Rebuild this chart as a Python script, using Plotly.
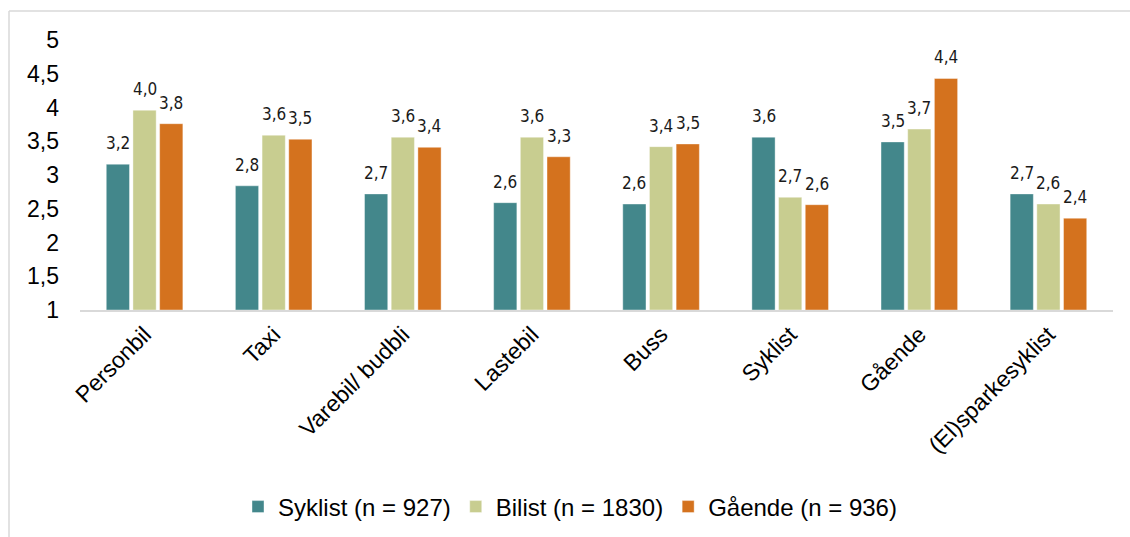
import plotly.graph_objects as go

categories = ["Personbil", "Taxi", "Varebil/ budbli", "Lastebil", "Buss", "Syklist", "Gående", "(El)sparkesyklist"]
series_names = ["Syklist (n = 927)", "Bilist (n = 1830)", "Gående (n = 936)"]
syklist = [3.16, 2.84, 2.72, 2.59, 2.57, 3.56, 3.49, 2.72]
bilist = [3.96, 3.59, 3.56, 3.56, 3.42, 2.67, 3.68, 2.57]
gaende = [3.76, 3.53, 3.41, 3.27, 3.46, 2.56, 4.43, 2.36]
colors = ["#43878B", "#C8CD90", "#D4721E"]
y_ticks = [1, 1.5, 2, 2.5, 3, 3.5, 4, 4.5, 5]

W, H = 1130, 537
ml, mr, mt, mb = 80, 17, 40, 227
bargap = 0.38

fig = go.Figure()
all_series = [syklist, bilist, gaende]
for name, vals, col in zip(series_names, all_series, colors):
    fig.add_trace(go.Bar(
        x=categories, y=[v - 1 for v in vals], base=1, name=name,
        marker=dict(color=col, line=dict(width=1, color="rgba(255,255,255,0.4)")),
        hoverinfo="skip",
    ))

pw = W - ml - mr
ph = H - mt - mb
group_px = pw / len(categories)
slot_px = (1 - bargap) * group_px / 3

annotations = []
for i, vals in enumerate(all_series):
    for cat, v in zip(categories, vals):
        annotations.append(dict(
            x=cat, y=v, xref="x", yref="y", text=f"{round(v, 1):.1f}".replace(".", ","),
            showarrow=False, yanchor="bottom", xanchor="center",
            xshift=(i - 1) * slot_px, yshift=9,
            font=dict(family="DejaVu Sans Condensed, sans-serif", size=17, color="#1a1a1a"),
        ))

bx = (9 - ml) / pw
by = (H - mb - 11) / ph

fig.update_layout(
    width=W, height=H,
    margin=dict(l=ml, r=mr, t=mt, b=mb, autoexpand=False),
    paper_bgcolor="white", plot_bgcolor="white",
    barmode="group", bargap=bargap, bargroupgap=0.13,
    separators=", ",
    font=dict(family="Liberation Sans, Arial, sans-serif", color="#000"),
    showlegend=True,
    legend=dict(orientation="h", xref="container", x=570 / W, xanchor="center",
                yref="container", y=(H - 507) / H, yanchor="middle",
                font=dict(size=24), itemwidth=30, tracegroupgap=0),
    annotations=annotations,
    shapes=[
        dict(type="line", xref="paper", yref="paper", x0=bx, x1=bx, y0=by, y1=-2, line=dict(color="#d9d9d9", width=1.5)),
        dict(type="line", xref="paper", yref="paper", x0=bx, x1=1.2, y0=by, y1=by, line=dict(color="#d9d9d9", width=1.5)),
    ],
)
fig.update_xaxes(
    tickangle=-45, tickfont=dict(size=23), showline=True, linecolor="#d9d9d9", linewidth=2,
    ticks="", showgrid=False,
)
fig.update_yaxes(
    range=[1, 5], tickvals=y_ticks, ticktext=[str(t).replace(".", ",") if t % 1 else str(int(t)) for t in y_ticks],
    tickfont=dict(size=23), showgrid=False, zeroline=False, ticks="", ticklabelstandoff=20,
)

fig.write_html("out.html")
